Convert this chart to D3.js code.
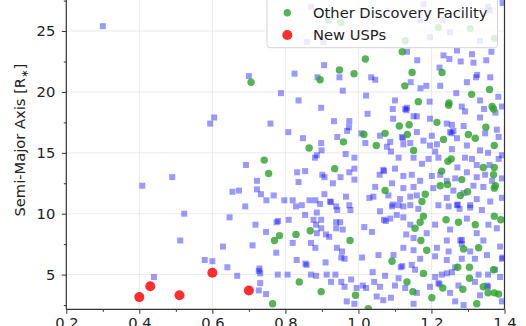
<!DOCTYPE html>
<html>
<head>
<meta charset="utf-8">
<script src="https://cdn.jsdelivr.net/npm/d3@7"></script>
<style>
  html, body { margin: 0; padding: 0; background: #fff; }
  svg { display: block; font-family: "DejaVu Sans", sans-serif; }
</style>
</head>
<body>
<svg id="chart" width="526" height="326"></svg>
<script>
// Orbital period [days] vs semi-major axis [stellar radii]

// Known planets (blue squares)
const knownPlanets = [
  [0.30,25.4],[0.605,17.9],[0.594,17.4],[0.408,12.3],[0.49,13.0],[0.655,11.8],[0.673,11.9],
  [0.44,4.8],[0.512,7.8],[0.523,10.0],[0.647,9.7],[0.629,7.3],[0.579,6.2],[0.60,6.1],[0.641,5.6],
  [0.668,4.9],[0.69,10.6],[0.718,9.1],[0.71,7.4],[0.727,5.3],[0.731,4.3],[0.727,3.7],
  [0.70,21.3],[0.825,21.5],[0.906,22.2],[0.888,21.2],[0.948,21.2],[0.957,20.1],[0.788,19.9],
  [0.836,19.3],[0.898,18.7],[1.021,19.7],[0.87,27.0],[0.859,24.1],[0.904,24.1],[1.035,21.2],
  [1.133,23.3],[1.161,22.6],[1.233,23.0],[1.249,22.7],[1.28,22.5],[1.311,23.1],[1.315,22.4],
  [1.35,22.6],[1.364,23.3],[1.222,22.0],[1.046,21.0],[1.143,20.8],[1.17,20.3],[1.186,20.5],
  [1.224,20.5],[1.268,19.9],[1.297,20.8],[1.322,21.2],[1.361,21.2],[1.325,21.4],[1.10,19.3],
  [1.195,19.2],[1.133,18.7],[1.283,18.8],[1.333,19.3],[1.383,19.6],[1.393,18.8],[1.196,24.5],
  [1.251,24.9],[1.27,23.4],[1.333,24.2],[1.232,25.9],[1.169,25.9],[1.178,27.2],[1.36,26.7],
  [1.395,27.3],[1.355,27.0],[1.025,18.2],[1.095,17.8],
  [0.759,17.4],[0.808,16.7],[0.933,17.6],[0.975,17.6],[0.974,17.1],[0.969,16.8],[0.942,16.3],
  [0.848,16.2],[0.898,15.8],[0.899,15.2],[0.886,14.8],[0.881,14.6],[0.965,14.9],[0.989,14.6],
  [1.008,16.6],[1.019,15.8],[0.692,14.0],[0.832,13.4],[0.854,13.5],[0.901,13.2],[0.907,13.0],
  [0.951,13.0],[0.975,13.4],[0.989,13.7],[0.989,12.8],[0.93,12.5],[0.722,12.7],[0.836,12.6],
  [0.722,12.0],[0.733,11.6],[0.748,11.1],[0.768,11.5],[0.797,11.1],[0.82,11.1],[0.829,10.6],
  [0.845,10.7],[0.866,11.1],[0.882,11.1],[0.895,10.8],[0.907,11.6],[0.922,11.0],[0.925,10.95],
  [0.939,10.6],[0.966,11.4],[0.975,10.7],[1.03,11.3],
  [0.886,10.1],[0.942,10.3],[0.978,10.3],[0.776,9.3],[0.78,9.4],[0.809,9.5],[0.877,9.5],
  [0.898,9.5],[0.884,9.1],[0.898,8.8],[0.939,9.3],[0.95,9.3],[0.939,8.8],[0.957,8.7],[1.016,8.9],
  [0.747,8.5],[0.886,8.4],[0.911,8.3],[0.92,8.1],[0.82,7.6],[0.87,7.6],[0.882,7.2],[0.941,7.2],
  [0.955,6.9],[0.962,6.3],[0.953,6.4],[1.01,6.4],[0.775,6.8],[0.831,6.2],[0.855,5.9],[0.858,5.8],
  [0.91,6.0],[0.729,5.5],[0.731,5.1],[0.779,5.0],[0.806,5.0],[0.87,5.0],[0.884,4.9],[0.913,5.0],
  [0.937,5.0],[0.925,4.4],[0.953,4.4],[0.98,4.6],[0.962,4.0],[1.012,4.1],[1.021,3.9],[0.747,3.4],
  [0.968,2.8],[0.989,2.6],[0.854,9.9],[0.995,3.9],
  [1.092,10.6],[1.123,10.6],[1.164,10.4],[1.247,10.6],[1.277,10.4],[1.306,10.5],[1.338,10.3],
  [1.07,9.5],[1.075,9.4],[1.087,9.6],[1.105,9.9],[1.123,9.7],[1.21,9.1],[1.251,8.7],[1.297,9.6],
  [1.356,9.1],[1.379,8.8],[1.037,8.5],[1.131,8.3],[1.151,8.0],[1.242,7.8],[1.279,7.8],[1.283,7.85],
  [1.283,7.5],[1.215,7.2],[1.247,6.9],[1.306,6.9],[1.352,6.6],[1.388,7.3],[1.096,6.6],[1.151,7.0],
  [1.169,6.3],[1.21,6.5],[1.242,6.2],[1.283,6.3],[1.319,6.3],[1.393,6.3],[1.395,6.4],[1.116,5.6],
  [1.12,5.7],[1.146,5.8],[1.155,5.4],[1.039,5.2],[1.073,4.9],[1.11,4.7],[1.21,4.8],[1.228,5.0],
  [1.242,5.1],[1.256,5.2],[1.219,4.3],[1.222,4.2],[1.274,4.1],[1.319,4.4],[1.329,5.0],[1.355,5.0],
  [1.352,4.1],[1.355,4.0],[1.374,5.4],[1.388,4.8],[1.10,4.1],[1.128,3.9],[1.16,3.5],[1.05,3.2],
  [1.068,2.9],[1.089,3.1],[1.151,2.6],[1.043,4.4],[1.265,2.8],[1.393,2.8],
  [1.059,10.2],[1.142,9.1],[1.187,8.4],[1.324,8.4],[1.342,7.8],[1.123,7.2],[1.055,6.6],[1.265,5.6],
  [1.196,4.0],[1.251,3.5],[1.333,3.3],[1.059,4.0],[1.288,2.5],
  [1.094,18.6],[1.128,18.6],[1.131,18.5],[1.16,18.0],[1.151,18.0],[1.196,17.8],[1.292,18.4],
  [1.333,17.9],[1.375,18.3],[1.344,18.6],[1.242,17.4],[1.256,17.3],[1.288,17.2],[1.379,16.9],
  [1.119,16.3],[1.122,16.2],[1.16,16.7],[1.201,16.4],[1.251,16.7],[1.26,16.8],[1.255,16.6],
  [1.27,16.2],[1.347,16.6],[1.384,16.3],[1.087,15.9],[1.078,15.5],[1.123,15.7],[1.142,15.8],
  [1.196,15.6],[1.256,15.3],[1.297,15.6],[1.333,15.2],[1.355,15.0],[1.393,14.8],[1.11,14.6],
  [1.151,14.6],[1.174,14.1],[1.21,15.1],[1.219,14.6],[1.292,14.6],[1.311,14.5],[1.324,14.0],
  [1.384,14.5],[1.068,13.6],[1.07,13.5],[1.10,13.7],[1.123,13.1],[1.146,13.2],[1.201,13.1],
  [1.224,13.2],[1.265,12.9],[1.297,13.4],[1.324,13.0],[1.347,13.2],[1.393,12.9],[1.046,12.2],
  [1.092,12.5],[1.123,12.1],[1.151,12.2],[1.205,12.1],[1.26,11.9],[1.315,12.3],[1.342,12.2],
  [1.041,11.4],[1.082,11.5],[1.114,11.2],[1.142,11.4],[1.16,11.5],[1.219,10.7],[1.242,11.3],
  [1.27,10.7],[1.272,10.75],[1.324,11.2],[1.361,11.0],[1.393,11.3],[1.094,10.75],
  [1.059,16.4],[1.178,16.0],[1.215,15.7],[1.089,15.1],[1.192,14.5],[1.271,13.8],[1.359,14.0],
  [1.169,12.7],[1.242,12.7],[1.366,12.7],[1.058,13.2],[1.288,11.7],[1.11,10.7],[1.142,10.7],
  [1.306,10.7]
];

// Other discovery facility (green circles)
const otherFacility = [
  [0.706,20.8],[0.895,21.0],[0.948,21.8],[0.988,21.5],[1.019,22.7],[0.918,25.9],[0.952,25.7],
  [1.12,23.3],[1.147,21.6],[1.127,20.5],[1.229,21.6],[1.164,19.2],[1.248,19.1],[1.31,19.8],
  [1.359,20.2],[1.366,18.8],[1.219,25.3],[1.306,25.2],[1.128,24.2],[1.372,24.4],
  [0.865,15.4],[0.959,15.9],[0.742,14.4],[0.754,13.3],[0.935,13.7],[1.015,16.5],
  [0.784,8.2],[0.77,7.8],[0.829,8.3],[0.868,8.6],[0.977,7.8],[0.838,4.4],[0.898,3.6],[0.992,3.3],
  [0.765,2.6],[1.027,2.2],
  [1.178,9.8],[1.169,9.3],[1.155,8.8],[1.24,9.5],[1.274,9.3],[1.32,9.1],[1.372,9.8],[1.39,9.5],
  [1.171,7.8],[1.187,7.0],[1.288,7.1],[1.329,7.2],[1.092,6.1],[1.272,5.6],[1.304,5.6],[1.37,5.4],
  [1.178,5.1],[1.304,4.7],[1.133,4.4],[1.231,3.9],[1.286,3.8],[1.342,4.0],[1.149,3.6],[1.201,3.1],
  [1.355,3.5],[1.372,3.5],[1.384,3.4],[1.324,2.6],
  [1.247,18.9],[1.37,18.6],[1.215,17.5],[1.112,17.2],[1.139,17.3],[1.073,16.6],[1.134,16.5],
  [1.049,15.6],[1.151,15.2],[1.233,16.1],[1.301,16.5],[1.32,16.2],[1.349,17.1],[1.372,15.6],
  [1.254,14.5],[1.245,14.3],[1.342,13.8],[1.372,13.8],[1.228,13.5],[1.283,12.8],[1.37,13.2],
  [1.224,12.3],[1.244,12.4],[1.375,12.3],[1.073,11.9],[1.299,11.8],[1.183,11.6],[1.279,11.5],
  [1.174,11.0],[1.372,12.1]
];

// Newly detected ultra-short-period planets (red circles)
const newUsps = [
  [0.40,3.15],[0.43,4.05],[0.51,3.3],[0.60,5.15],[0.70,3.7]
];

const xTicks = [0.2, 0.4, 0.6, 0.8, 1.0, 1.2, 1.4];
const yTicks = [5, 10, 15, 20, 25];
const legendLabels = ["Other Discovery Facility", "New USPs"];

const svg = d3.select("#chart");
const plot = { left: 66.3, right: 504.5, top: -29, bottom: 309.3 };

const x = d3.scaleLinear().domain([0.2, 1.4]).range([plot.left, plot.right]);
const y = d3.scaleLinear().domain([2.15, 29.93]).range([plot.bottom, plot.top]);

svg.append("defs").append("clipPath").attr("id", "plotClip")
  .append("rect")
  .attr("x", plot.left).attr("y", plot.top)
  .attr("width", plot.right - plot.left).attr("height", plot.bottom - plot.top);

// grid
const grid = svg.append("g");
grid.selectAll(".gx").data(xTicks.filter(d => d > 0.2 && d < 1.4)).join("line")
  .attr("x1", d => x(d)).attr("x2", d => x(d))
  .attr("y1", plot.top).attr("y2", plot.bottom)
  .attr("stroke", "#e6e6e6").attr("stroke-width", 0.8);
grid.selectAll(".gy").data(yTicks).join("line")
  .attr("x1", plot.left).attr("x2", plot.right)
  .attr("y1", d => y(d)).attr("y2", d => y(d))
  .attr("stroke", "#e6e6e6").attr("stroke-width", 0.8);

const marks = svg.append("g").attr("clip-path", "url(#plotClip)");
const sq = 6;
marks.selectAll(".known").data(knownPlanets).join("rect")
  .attr("x", d => x(d[0]) - sq / 2).attr("y", d => y(d[1]) - sq / 2)
  .attr("width", sq).attr("height", sq)
  .attr("fill", "blue").attr("fill-opacity", 0.4);

marks.selectAll(".other").data(otherFacility).join("circle")
  .attr("cx", d => x(d[0])).attr("cy", d => y(d[1])).attr("r", 3.7)
  .attr("fill", "#2ca02c").attr("fill-opacity", 0.8);

marks.selectAll(".usp").data(newUsps).join("circle")
  .attr("cx", d => x(d[0])).attr("cy", d => y(d[1])).attr("r", 5)
  .attr("fill", "#ff0000").attr("fill-opacity", 0.82);

// axes
const fontSize = "14.7px";
const xMinor = d3.range(0.3, 1.4, 0.2);
const yMinor = [2.5, 7.5, 12.5, 17.5, 22.5, 27.5];

const xAxis = svg.append("g").attr("transform", `translate(0,${plot.bottom})`)
  .call(d3.axisBottom(x).tickValues(xTicks).tickFormat(d3.format(".1f")).tickSize(4.5).tickPadding(3.5));
svg.append("g").attr("transform", `translate(0,${plot.bottom})`)
  .call(d3.axisBottom(x).tickValues(xMinor).tickFormat("").tickSize(2.5))
  .call(g => g.select(".domain").remove());

const yAxis = svg.append("g").attr("transform", `translate(${plot.left},0)`)
  .call(d3.axisLeft(y).tickValues(yTicks).tickSize(4.5).tickPadding(6.5));
svg.append("g").attr("transform", `translate(${plot.left},0)`)
  .call(d3.axisLeft(y).tickValues(yMinor).tickFormat("").tickSize(2.5))
  .call(g => g.select(".domain").remove());

svg.selectAll(".tick line").attr("stroke", "#333").attr("stroke-width", 1);
svg.selectAll(".tick text").attr("fill", "#222").style("font-size", fontSize)
  .style("font-family", "DejaVu Sans, sans-serif");
xAxis.select(".domain").attr("stroke", "#333").attr("stroke-width", 1.2).attr("d", `M${plot.left},0H${plot.right}`);
yAxis.select(".domain").attr("stroke", "#333").attr("stroke-width", 1.2).attr("d", `M0,${plot.bottom}V${plot.top}`);

// right spine
svg.append("line")
  .attr("x1", plot.right).attr("x2", plot.right)
  .attr("y1", plot.top).attr("y2", plot.bottom)
  .attr("stroke", "#333").attr("stroke-width", 1.2);

// y label
const yl = svg.append("text")
  .attr("transform", `translate(25,${(plot.top + plot.bottom) / 2}) rotate(-90)`)
  .attr("text-anchor", "middle")
  .attr("fill", "#222").style("font-size", fontSize);
yl.append("tspan").text("Semi-Major Axis [R");
yl.append("tspan").attr("baseline-shift", "-25%").style("font-size", "10px").text("∗");
yl.append("tspan").text("]");

// legend
const lg = svg.append("g");
lg.append("rect")
  .attr("x", 267).attr("y", plot.top + 7)
  .attr("width", 230.5).attr("height", 47.7 - (plot.top + 7))
  .attr("rx", 3).attr("fill", "#fff").attr("fill-opacity", 0.8)
  .attr("stroke", "#d5d5d5").attr("stroke-width", 1);
const legendRows = [
  { label: legendLabels[0], color: "#2ca02c", r: 3.7, op: 0.8, cy: 12.7 },
  { label: legendLabels[1], color: "#ff0000", r: 5, op: 0.82, cy: 35 }
];
legendRows.forEach(row => {
  lg.append("circle").attr("cx", 287.3).attr("cy", row.cy).attr("r", row.r)
    .attr("fill", row.color).attr("fill-opacity", row.op);
  lg.append("text").attr("x", 313).attr("y", row.cy + 5.2)
    .attr("fill", "#222").style("font-size", fontSize).text(row.label);
});
</script>
</body>
</html>
